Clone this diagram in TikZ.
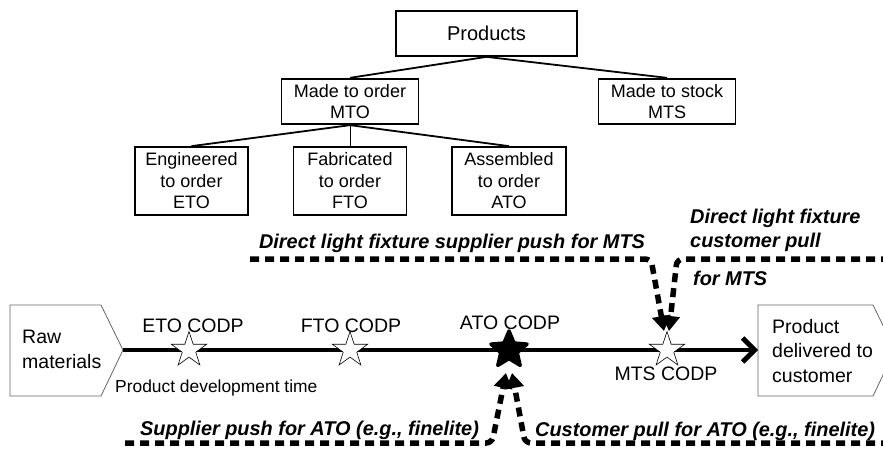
\documentclass[tikz,border=0pt]{standalone}
\usepackage{fontspec}
\setmainfont{Liberation Sans}
\usetikzlibrary{shapes.geometric,arrows.meta}
\begin{document}
\begin{tikzpicture}[x=1pt,y=-1pt,
  box/.style={draw,line width=1.7pt,inner sep=0pt,align=center,font=\fontsize{18}{21.5}\selectfont},
  edge/.style={line width=1.8pt},
  bi/.style={font=\fontsize{19.9}{24}\selectfont\bfseries\itshape,inner sep=0pt},
  lbl/.style={font=\fontsize{19.5}{24.2}\selectfont,inner sep=0pt,align=left},
  small/.style={font=\fontsize{17.4}{20}\selectfont,inner sep=0pt},
  wstar/.style={star,star points=5,star point ratio=2.6,minimum size=37pt,inner sep=0pt,draw,fill=white,line width=0.6pt},
  bstar/.style={star,star points=5,star point ratio=2.2,minimum size=38pt,inner sep=0pt,draw,fill=black,line width=3.5pt,line join=round},
  pent/.style={draw=black!60,line width=0.8pt},
  flow/.style={line width=4.8pt,-{Straight Barb[length=12pt,width=24pt]}},
  push/.style={line width=5.5pt,dash pattern=on 9pt off 6pt,rounded corners=6pt,-{Triangle[length=15pt,width=18pt]}}
]
\useasboundingbox (0,0) rectangle (883,449);
\clip (0,0) rectangle (883,449);

% tree
\node[box,minimum width=181pt,minimum height=45pt,font=\fontsize{20}{24}\selectfont] (prod) at (486.5,33.5) {Products};
\node[box,minimum width=137pt,minimum height=45.6pt] (mto) at (350,101.5) {Made to order\\MTO};
\node[box,minimum width=137pt,minimum height=45.6pt] (mts) at (667,101.5) {Made to stock\\MTS};
\node[box,minimum width=113pt,minimum height=68pt] (eto) at (191.5,181) {Engineered\\to order\\ETO};
\node[box,minimum width=113pt,minimum height=68pt] (fto) at (350,181) {Fabricated\\to order\\FTO};
\node[box,minimum width=114pt,minimum height=68pt] (ato) at (509,181) {Assembled\\to order\\ATO};
\draw[edge] (prod.south) -- (mto.north);
\draw[edge] (prod.south) -- (mts.north);
\draw[edge] (mto.south) -- (eto.north);
\draw[line width=1pt] (mto.south) -- (fto.north);
\draw[edge] (mto.south) -- (ato.north);

% end shapes
\draw[pent] (10,305) -- (101,305) -- (123,350) coordinate (rawtip) -- (101,396) -- (10,396) -- cycle;
\node[lbl,anchor=west] (raw) at (22,349.3) {Raw\\materials};
\draw[pent] (758,305) coordinate (pdtop) -- (873,305) -- (895,350) -- (873,396) -- (758,396) -- cycle;
\coordinate (pdin) at (758,350);
\node[lbl,anchor=west] (pd) at (772,351) {Product\\delivered to\\customer};

% main flow
\draw[flow] (rawtip) -- (pdin);

% stars
\node[wstar] (seto) at (189,350) {};
\node[wstar] (sfto) at (350,350) {};
\node[bstar] (sato) at (509,350) {};
\node[wstar] (smts) at (667,350) {};

% CODP labels
\node[lbl,anchor=base] (leto) at (193,332) {ETO CODP};
\node[lbl,anchor=base] (lfto) at (351,332) {FTO CODP};
\node[lbl,anchor=base] (lato) at (510,329) {ATO CODP};
\node[lbl,anchor=base] (lmts) at (666,380) {MTS CODP};
\node[small,anchor=base west] (pdt) at (115,392) {Product development time};

% push / pull labels
\node[bi,anchor=base] (spm) at (452,248) {Direct light fixture supplier push for MTS};
\node[bi,anchor=west,align=left] (cpm) at (690,230.8) {Direct light fixture\\customer pull};
\node[bi,anchor=base west] (fmts) at (693,285) {for MTS};
\node[bi,anchor=base west] (spa) at (140,435) {Supplier push for ATO (e.g., finelite)};
\node[bi,anchor=base west] (cpa) at (535,436.5) {Customer pull for ATO (e.g., finelite)};

% dashed push/pull arrows
\coordinate (ul) at (250,259);
\coordinate (ur) at (890,259);
\coordinate (ll) at (125,443);
\coordinate (lr) at (890,443);
\draw[push] (ul) -- (651,259) -- (664,331);
\draw[push] (ur) -- (677,259) -- (669,331);
\draw[push] (ll) -- (492,443) -- (506,373);
\draw[push] (lr) -- (525,443) -- (512,373);
\end{tikzpicture}
\end{document}
